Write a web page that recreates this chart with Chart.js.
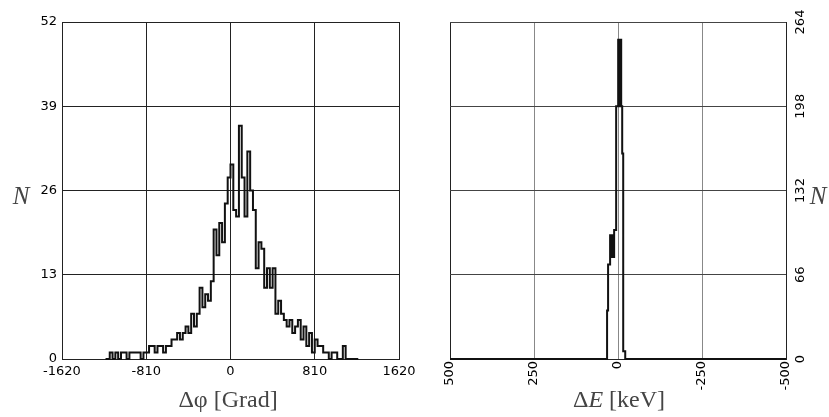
<!DOCTYPE html>
<html>
<head>
<meta charset="utf-8">
<script src="https://cdn.jsdelivr.net/npm/chart.js@4.4.0/dist/chart.umd.min.js"></script>
<style>
    body { margin: 0; background: #fff; }
    #wrap { position: relative; width: 829px; height: 417px; overflow: hidden; }
    #phiChart { position: absolute; left: 0; top: 0; }
    #eChart { position: absolute; left: 415px; top: 0; }
    .lab { position: absolute; font-family: "Liberation Serif", "DejaVu Serif", serif; color: #444; white-space: nowrap; transform: translate(-50%, -50%); }
</style>
</head>
<body>
<div id="wrap">
    <canvas id="phiChart" width="430" height="417"></canvas>
    <canvas id="eChart" width="414" height="417"></canvas>
    <div class="lab" style="left:21px; top:196px; font-size:25px; font-style:italic;">N</div>
    <div class="lab" style="left:818px; top:196px; font-size:25px; font-style:italic;">N</div>
    <div class="lab" style="left:228px; top:399px; font-size:24px;">Δφ [Grad]</div>
    <div class="lab" style="left:619px; top:399px; font-size:24px;">Δ<i>E</i> [keV]</div>
</div>
<script>
// ==== LEFT: delta phi histogram ====
const phiBinStart = -1215;   // left edge of first bin (Grad)
const phiBinWidth = 27;
const phiCounts = [
    0, 0, 1, 0, 1, 0, 1, 1, 0, 1, 1, 1, 1, 0, 1, 1,
    2, 2, 1, 2, 2, 1, 2, 2, 3, 3, 4, 3, 4, 5, 4, 7,
    5, 7, 11, 8, 10, 9, 12, 20, 16, 21, 18, 24, 28, 30, 23, 22,
    36, 28, 22, 32, 26, 23, 14, 18, 17, 11, 14, 11, 14, 7, 9, 7,
    6, 5, 6, 4, 5, 6, 3, 5, 2, 4, 1, 3, 2, 2, 1, 1,
    0, 1, 1, 0, 0, 2, 0, 0, 0, 0, 0
];
const phiTicks = [-1620, -810, 0, 810, 1620];
const phiCountTicks = [0, 13, 26, 39, 52];

// ==== RIGHT: delta E histogram ====
const eCenters = [500, 40, 34, 31, 28, 25, 22, 19, 16, 13, 10, 7, 4, 1, -2, -5, -8, -11, -14, -17, -20, -23, -26, -500];
const eCounts  = [0,   0,  0,  38, 74, 74, 97, 80, 97, 80, 101, 101, 198, 198, 250, 198, 250, 198, 161, 6, 6, 0, 0, 0];
const eTicks = [500, 250, 0, -250, -500];
const eCountTicks = [0, 66, 132, 198, 264];

const tickFont = { family: "DejaVu Sans", size: 13 };

const phiPoints = phiCounts.map((c, i) => ({ x: phiBinStart + (i + 0.5) * phiBinWidth, y: c }));
const ePoints = eCenters.map((x, i) => ({ x: x, y: eCounts[i] }));

function fixedTicks(list) {
    return scale => { scale.ticks = list.map(v => ({ value: v })); };
}
const plain = v => String(v);

new Chart(document.getElementById("phiChart"), {
    type: 'line',
    data: {
        datasets: [{
            data: phiPoints,
            stepped: 'middle',
            borderColor: '#111',
            borderWidth: 2,
            pointRadius: 0,
            fill: false,
            clip: 3
        }]
    },
    options: {
        responsive: false,
        animation: false,
        layout: { padding: { left: 0, top: 22, right: 31, bottom: 0 } },
        plugins: { legend: { display: false }, tooltip: { enabled: false } },
        scales: {
            x: {
                type: 'linear', min: -1620, max: 1620,
                afterBuildTicks: fixedTicks(phiTicks),
                afterFit: s => { s.height = 58; },
                grid: { color: '#222', lineWidth: 1, drawTicks: false },
                border: { color: '#222' },
                ticks: { color: '#000', font: tickFont, padding: 5, maxRotation: 0, autoSkip: false, callback: plain }
            },
            y: {
                type: 'linear', min: 0, max: 52,
                afterBuildTicks: fixedTicks(phiCountTicks),
                afterFit: s => { s.width = 62; },
                grid: { color: '#222', lineWidth: 1, drawTicks: false },
                border: { color: '#222' },
                ticks: { color: '#000', font: tickFont, padding: 5, callback: plain }
            }
        }
    }
});

new Chart(document.getElementById("eChart"), {
    type: 'line',
    data: {
        datasets: [{
            data: ePoints,
            stepped: 'middle',
            borderColor: '#111',
            borderWidth: 2,
            pointRadius: 0,
            fill: false,
            clip: 3
        }]
    },
    options: {
        responsive: false,
        animation: false,
        layout: { padding: { left: 35, top: 22, right: 0, bottom: 0 } },
        plugins: { legend: { display: false }, tooltip: { enabled: false } },
        scales: {
            x: {
                type: 'linear', min: -500, max: 500, reverse: true,
                afterBuildTicks: fixedTicks(eTicks),
                afterFit: s => { s.height = 58; },
                grid: {
                    color: ctx => (Math.abs(ctx.tick.value) === 500 ? '#222' : '#888'),
                    lineWidth: 1, drawTicks: false
                },
                border: { color: '#222' },
                ticks: { color: '#000', font: tickFont, padding: 2, minRotation: 90, maxRotation: 90, autoSkip: false, callback: plain }
            },
            y: {
                type: 'linear', position: 'right', min: 0, max: 264,
                afterBuildTicks: fixedTicks(eCountTicks),
                afterFit: s => { s.width = 43; },
                grid: { color: '#444', lineWidth: 1, drawTicks: false },
                border: { color: '#222' },
                ticks: { color: '#000', font: tickFont, padding: 2, minRotation: 90, maxRotation: 90, crossAlign: 'center', callback: plain }
            }
        }
    }
});
</script>
</body>
</html>
